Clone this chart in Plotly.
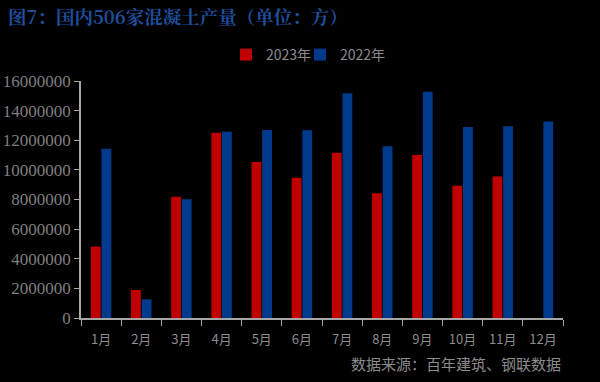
import plotly.graph_objects as go

months = ["1月", "2月", "3月", "4月", "5月", "6月", "7月", "8月", "9月", "10月", "11月", "12月"]
y2023 = [4820000, 1890000, 8180000, 12500000, 10540000, 9460000, 11150000, 8420000, 11010000, 8920000, 9550000, None]
y2022 = [11420000, 1260000, 8020000, 12570000, 12700000, 12680000, 15180000, 11600000, 15270000, 12900000, 12950000, 13260000]
yticks = [0, 2000000, 4000000, 6000000, 8000000, 10000000, 12000000, 14000000, 16000000]

fig = go.Figure()
fig.add_trace(go.Bar(x=months, y=y2023, name="2023年", legend="legend",
                     marker=dict(color="#c00000", line=dict(width=0))))
fig.add_trace(go.Bar(x=months, y=y2022, name="2022年", legend="legend2",
                     marker=dict(color="#003a8c", line=dict(width=0))))

W, H = 600, 382
legfont = dict(family="Noto Sans CJK SC", size=14, color="#8c8c8c")
fig.update_layout(
    width=W, height=H,
    paper_bgcolor="black", plot_bgcolor="black",
    margin=dict(l=81, r=37, t=81, b=64, autoexpand=False),
    barmode="group", bargap=0.47, bargroupgap=0.08,
    showlegend=True,
    legend=dict(orientation="h", xref="container", x=(266 - 40) / W, xanchor="left",
                yref="container", y=1 - 55 / H, yanchor="middle", font=legfont,
                bgcolor="rgba(0,0,0,0)"),
    legend2=dict(orientation="h", xref="container", x=(340 - 40) / W, xanchor="left",
                 yref="container", y=1 - 55 / H, yanchor="middle", font=legfont,
                 bgcolor="rgba(0,0,0,0)"),
    title=dict(text="<b>图7：国内506家混凝土产量（单位：方）</b>", x=8 / W, xanchor="left",
               yref="container", y=1 - 18 / H, yanchor="middle",
               font=dict(family="Noto Serif CJK SC, Noto Sans CJK SC", size=18.5, color="#1f4e9c")),
    xaxis=dict(showline=True, linecolor="#a6a6a6", linewidth=1.5, ticks="outside", tickson="boundaries",
               ticklen=6, tickcolor="#a6a6a6", ticklabelstandoff=9,
               tickfont=dict(family="Noto Sans CJK SC", size=13, color="#8c8c8c"),
               showgrid=False),
    yaxis=dict(range=[0, 16000000], tickvals=yticks, ticktext=[str(v) for v in yticks],
               showline=True, linecolor="#a6a6a6", linewidth=1.5, ticks="outside", ticklen=5,
               tickcolor="#a6a6a6", tickfont=dict(family="Liberation Serif, serif", size=17, color="#7f7f7f"),
               showgrid=False, zeroline=False),
    annotations=[dict(text="数据来源：百年建筑、钢联数据", xref="paper", yref="paper", x=1.0, y=-0.19,
                      xanchor="right", yanchor="middle", showarrow=False,
                      font=dict(family="Noto Sans CJK SC", size=15, color="#8c8c8c"))],
)
fig.write_html("out.html", config={"displayModeBar": False},
               post_script="document.body.style.margin='0';document.body.style.background='black';")
